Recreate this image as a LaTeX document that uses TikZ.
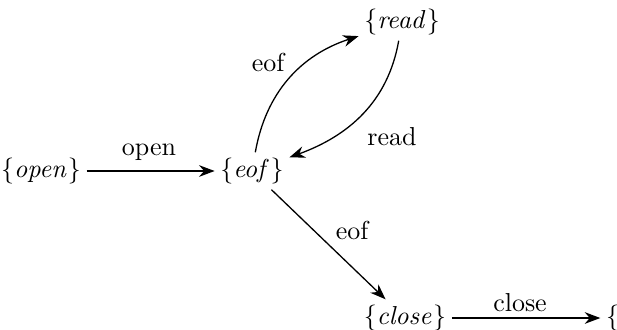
\documentclass[tikz,border=0pt]{standalone}
\usetikzlibrary{arrows.meta}
\begin{document}
\begin{tikzpicture}[x=0.385pt,y=-0.385pt,
  state/.style={inner sep=2pt},
  trans/.style={-{Stealth[length=6pt,width=4.5pt]},line width=0.5pt},
  lbl/.style={inner sep=0pt}]
  \useasboundingbox (0,0) rectangle (617,329);
  % states
  \node[state] (open)  at (41,171)  {$\{\mathit{open}\}$};
  \node[state] (eof)   at (252,171) {$\{\mathit{eof}\}$};
  \node[state] (read)  at (402,22)  {$\{\mathit{read}\}$};
  \node[state] (close) at (405,318) {$\{\mathit{close}\}$};
  \node[state] (done)  at (619,318) {$\{\}$};
  % transitions
  \draw[trans] (open) -- (eof);
  \draw[trans] (eof) to[out=80,in=198] (read);
  \draw[trans] (read) to[out=-100,in=20] (eof);
  \draw[trans] (eof) -- (close);
  \draw[trans] (close) -- (done);
  % transition labels
  \node[lbl] at (149,152) {open};
  \node[lbl] at (268,62)  {eof};
  \node[lbl] at (392,137) {read};
  \node[lbl] at (352,230) {eof};
  \node[lbl] at (520,303) {close};
\end{tikzpicture}
\end{document}
